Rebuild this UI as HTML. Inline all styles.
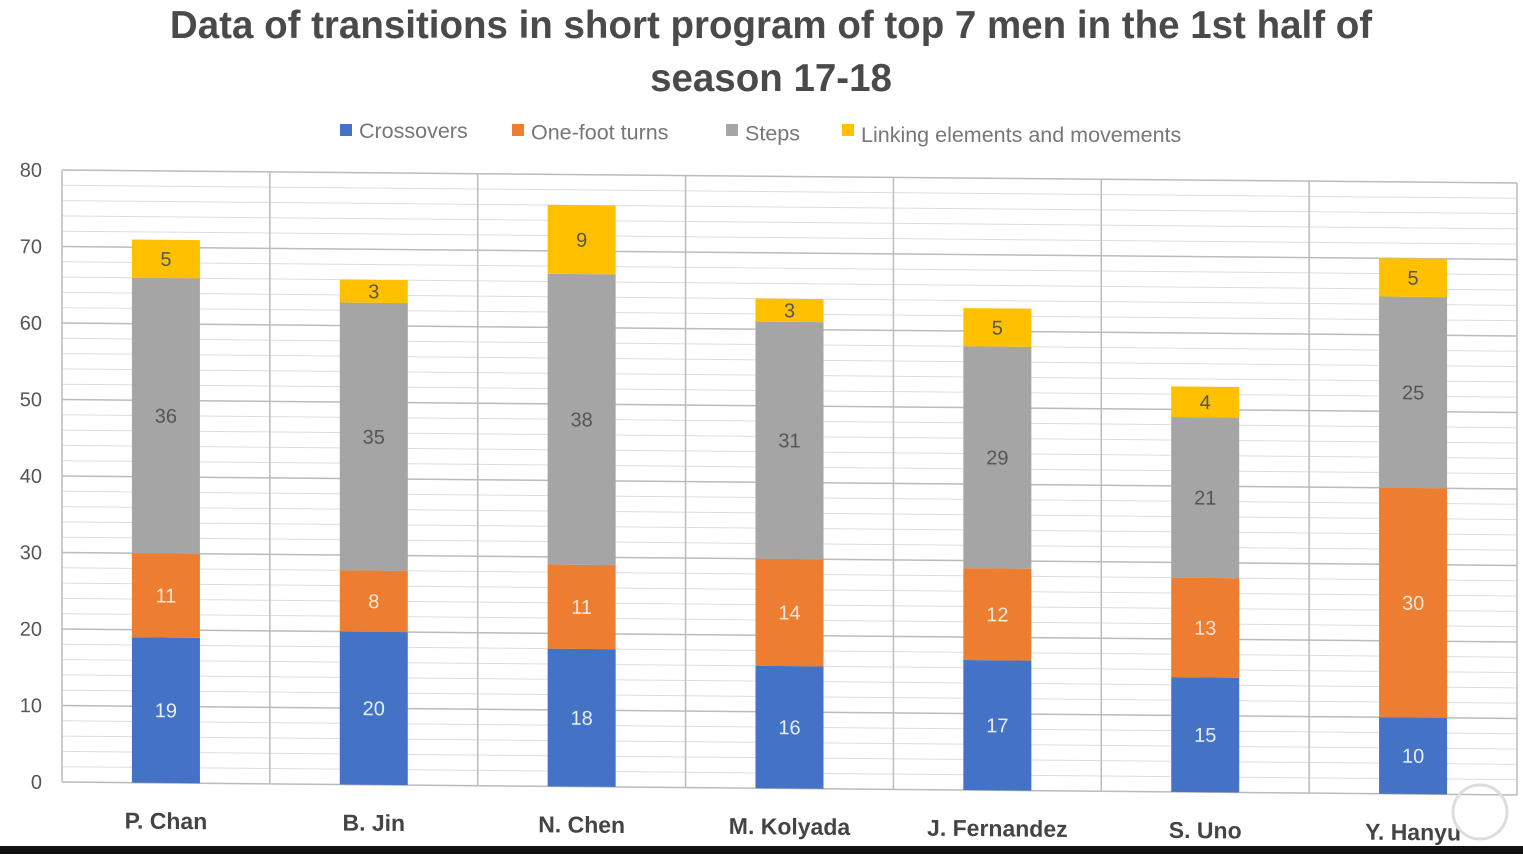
<!DOCTYPE html>
<html><head><meta charset="utf-8"><style>
body{margin:0;background:#fff;width:1523px;height:854px;overflow:hidden;font-family:"Liberation Sans",sans-serif}
</style></head><body>
<svg id="c" width="1523" height="854">
<text x="771" y="38" text-anchor="middle" font-size="38.5" font-weight="bold" fill="#4a4a4a">Data of transitions in short program of top 7 men in the 1st half of</text>
<text x="771" y="91" text-anchor="middle" font-size="38.5" font-weight="bold" fill="#4a4a4a">season 17-18</text>
<g id="legend" font-size="21.5" fill="#777"></g>
<g id="plot" transform="translate(62,0) skewY(0.51) translate(-62,0)"></g>
<rect x="0" y="846" width="1523" height="8" fill="#111"/>
<circle cx="1480" cy="812" r="27" fill="none" stroke="#ddd" stroke-width="3"/>
</svg>
<script>
const categories=["P. Chan","B. Jin","N. Chen","M. Kolyada","J. Fernandez","S. Uno","Y. Hanyu"];
const crossovers=[19,20,18,16,17,15,10];
const oneFootTurns=[11,8,11,14,12,13,30];
const steps=[36,35,38,31,29,21,25];
const linking=[5,3,9,3,5,4,5];
const yTicks=[0,10,20,30,40,50,60,70,80];
const seriesNames=["Crossovers","One-foot turns","Steps","Linking elements and movements"];
const colors=["#4472C4","#ED7D31","#A5A5A5","#FFC000"];
const labelColors=["#e8eefa","#fbe6d8","#555","#555"];
const NS="http://www.w3.org/2000/svg";
const X0=62,X1=1517,Y0=782,YT=170,YMAX=80;
const y=v=>Y0-(v/YMAX)*(Y0-YT);
const band=(X1-X0)/categories.length;
const xc=i=>X0+band*(i+0.5);
const plot=document.getElementById('plot');
function mk(tag,attrs,parent){const e=document.createElementNS(NS,tag);for(const k in attrs)e.setAttribute(k,attrs[k]);parent.appendChild(e);return e;}
for(let v=0;v<=YMAX;v+=2){const l=mk('line',{x1:X0,x2:X1,y1:y(v),y2:y(v),stroke:v%10===0?'#bbb':'#ddd','stroke-width':v%10===0?1.5:1},plot);

}
for(let i=0;i<=categories.length;i++){const l=mk('line',{x1:X0+band*i,x2:X0+band*i,y1:YT,y2:Y0,stroke:'#bbb','stroke-width':1.5},plot);

}
yTicks.forEach(t=>{const e=mk('text',{x:X0-20,y:y(t)+7,'text-anchor':'end','font-size':20,fill:'#555'},plot);e.textContent=t;

});
const series=[crossovers,oneFootTurns,steps,linking];
const bw=68;
categories.forEach((c,i)=>{let base=0;
series.forEach((s,k)=>{const v=s[i];
const r=mk('rect',{x:xc(i)-bw/2,y:y(base+v),width:bw,height:y(base)-y(base+v),fill:colors[k]},plot);


const t=mk('text',{x:xc(i),y:(y(base)+y(base+v))/2+7,'text-anchor':'middle','font-size':20,fill:labelColors[k]},plot);t.textContent=v;


base+=v;});
const t=mk('text',{x:xc(i),y:828,'text-anchor':'middle','font-size':23,'font-weight':'600',fill:'#444'},plot);t.textContent=c;

});
const lg=document.getElementById('legend');
const lx=[340,512,726,842];
seriesNames.forEach((n,k)=>{const r=mk('rect',{x:lx[k],y:124,width:12,height:12,fill:colors[k]},lg);


const t=mk('text',{x:lx[k]+19,y:138+k*1.3,fill:'#777'},lg);t.textContent=n;

});
</script>
</body></html>
